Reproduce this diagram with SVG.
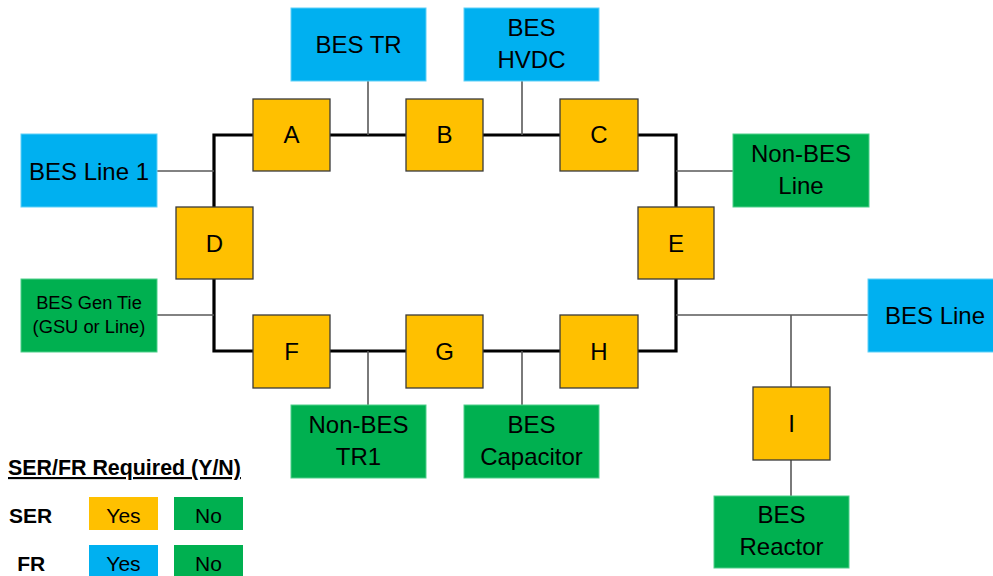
<svg xmlns="http://www.w3.org/2000/svg" width="993" height="576" viewBox="0 0 993 576">
<style>
text{font-family:"Liberation Sans",Arial,sans-serif;fill:#000;text-anchor:middle}
.t{font-size:24px}
.s{font-size:18.3px}
.lg{font-size:21px}
.lt{font-size:21.4px}
.b{font-weight:bold;text-anchor:start}
.sw{fill:#FFC000;stroke:#3a3a3a;stroke-width:1.3}
.bl{fill:#00B0F0;stroke:#5fd0f7;stroke-width:1}
.gr{fill:#00B050;stroke:#4fcf8a;stroke-width:1}
.bus{fill:none;stroke:#000;stroke-width:3.2}
.tap{fill:none;stroke:#595959;stroke-width:1.6}
</style>
<rect width="993" height="576" fill="#fff"/>
<g id="connectors">
<path class="bus" d="M214,207 V135 H676 V207"/>
<path class="bus" d="M214,279 V351 H676 V279"/>
<path class="tap" d="M368,81 V135"/>
<path class="tap" d="M522,81 V135"/>
<path class="tap" d="M157,171 H214"/>
<path class="tap" d="M676,171 H733"/>
<path class="tap" d="M157,315 H214"/>
<path class="tap" d="M368,351 V405"/>
<path class="tap" d="M522,351 V405"/>
<path class="tap" d="M676,315 H868"/>
<path class="tap" d="M791,315 V387"/>
<path class="tap" d="M791,460 V496"/>
</g>
<g id="bes-tr"><rect class="bl" x="291" y="8" width="135" height="73"/><text class="t" x="358.5" y="53">BES TR</text></g>
<g id="bes-hvdc"><rect class="bl" x="464" y="8" width="135" height="73"/><text class="t" x="531.5" y="35.5">BES</text><text class="t" x="531.5" y="68">HVDC</text></g>
<g id="bes-line-1"><rect class="bl" x="21" y="134" width="136" height="73"/><text class="t" x="89" y="179.5">BES Line 1</text></g>
<g id="non-bes-line"><rect class="gr" x="733" y="134" width="136" height="73"/><text class="t" x="801" y="162.3">Non-BES</text><text class="t" x="801" y="194.3">Line</text></g>
<g id="bes-gen-tie"><rect class="gr" x="21" y="279" width="136" height="73"/><text class="s" x="89" y="309.3">BES Gen Tie</text><text class="s" x="89" y="333.3">(GSU or Line)</text></g>
<g id="bes-line"><rect class="bl" x="868" y="279" width="136" height="73"/><text class="t" x="935" y="324">BES Line</text></g>
<g id="non-bes-tr1"><rect class="gr" x="291" y="405" width="135" height="73"/><text class="t" x="358.5" y="432.7">Non-BES</text><text class="t" x="358.5" y="465">TR1</text></g>
<g id="bes-capacitor"><rect class="gr" x="464" y="405" width="135" height="73"/><text class="t" x="531.5" y="432.5">BES</text><text class="t" x="531.5" y="464.5">Capacitor</text></g>
<g id="bes-reactor"><rect class="gr" x="714" y="496" width="135" height="72"/><text class="t" x="781.5" y="522.5">BES</text><text class="t" x="781.5" y="555">Reactor</text></g>
<g id="A"><rect class="sw" x="253" y="99" width="77" height="72"/><text class="t" x="291.5" y="143.3">A</text></g>
<g id="B"><rect class="sw" x="406" y="99" width="77" height="72"/><text class="t" x="444.5" y="143.3">B</text></g>
<g id="C"><rect class="sw" x="560" y="99" width="78" height="72"/><text class="t" x="599" y="143.3">C</text></g>
<g id="D"><rect class="sw" x="176" y="207" width="77" height="72"/><text class="t" x="214.5" y="251.5">D</text></g>
<g id="E"><rect class="sw" x="638" y="207" width="76" height="72"/><text class="t" x="676" y="251.5">E</text></g>
<g id="F"><rect class="sw" x="253" y="315" width="77" height="73"/><text class="t" x="291.5" y="360">F</text></g>
<g id="G"><rect class="sw" x="406" y="315" width="77" height="73"/><text class="t" x="444.5" y="360">G</text></g>
<g id="H"><rect class="sw" x="560" y="315" width="78" height="73"/><text class="t" x="599" y="360">H</text></g>
<g id="I"><rect class="sw" x="753" y="387" width="77" height="73"/><text class="t" x="791.5" y="432">I</text></g>
<g id="legend">
<text class="lt b" x="8" y="475" text-decoration="underline">SER/FR Required (Y/N)</text>
<text class="lg b" x="9" y="523.3">SER</text>
<text class="lg b" x="17.3" y="571">FR</text>
<rect x="89" y="497" width="69" height="33" fill="#FFC000"/><text class="lg" x="123.5" y="523.3">Yes</text>
<rect x="174" y="497" width="69" height="33" fill="#00B050"/><text class="lg" x="208.5" y="523.3">No</text>
<rect x="89" y="545" width="69" height="33" fill="#00B0F0"/><text class="lg" x="123.5" y="571">Yes</text>
<rect x="174" y="545" width="69" height="33" fill="#00B050"/><text class="lg" x="208.5" y="571">No</text>
</g>
</svg>
